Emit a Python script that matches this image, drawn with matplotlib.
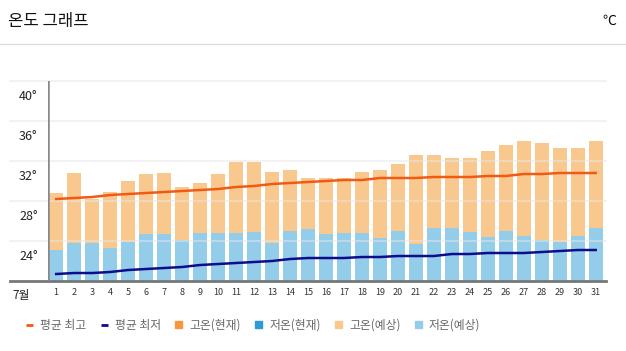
import matplotlib.pyplot as plt
from matplotlib.lines import Line2D
from matplotlib.patches import Rectangle

plt.rcParams['font.family'] = ['Noto Sans CJK KR', 'DejaVu Sans']

days = list(range(1, 32))
high_fc = [28.8, 30.8, 28.2, 28.9, 30.0, 30.7, 30.8, 29.4, 29.8, 30.7,
           31.9, 31.9, 30.9, 31.1, 30.3, 30.3, 30.3, 30.9, 31.1, 31.7,
           32.6, 32.6, 32.3, 32.3, 33.0, 33.6, 34.0, 33.8, 33.3, 33.3, 34.0]
low_fc = [23.1, 23.8, 23.8, 23.3, 23.9, 24.7, 24.7, 24.1, 24.8, 24.8,
          24.8, 24.9, 23.8, 25.0, 25.2, 24.7, 24.8, 24.8, 24.3, 25.0,
          23.7, 25.3, 25.3, 24.9, 24.4, 25.0, 24.5, 24.1, 23.9, 24.5, 25.3]
avg_high = [28.2, 28.3, 28.4, 28.6, 28.7, 28.8, 28.9, 29.0, 29.1, 29.2,
            29.4, 29.5, 29.7, 29.8, 29.9, 30.0, 30.1, 30.1, 30.3, 30.3,
            30.3, 30.4, 30.4, 30.4, 30.5, 30.5, 30.7, 30.7, 30.8, 30.8, 30.8]
avg_low = [20.7, 20.8, 20.8, 20.9, 21.1, 21.2, 21.3, 21.4, 21.6, 21.7,
           21.8, 21.9, 22.0, 22.2, 22.3, 22.3, 22.3, 22.4, 22.4, 22.5,
           22.5, 22.5, 22.7, 22.7, 22.8, 22.8, 22.8, 22.9, 23.0, 23.1, 23.1]
y_ticks = [24, 28, 32, 36, 40]
y_base = 20

c_high_line = '#f05a14'
c_low_line = '#0c0c8c'
c_high_now = '#f7963f'
c_low_now = '#2e9ad6'
c_high_fc = '#f9c88f'
c_low_fc = '#94cdea'

fig = plt.figure(figsize=(6.26, 3.51), dpi=100)
ax = fig.add_axes([0.0762, 0.1994, 0.8918, 0.5698])

ax.bar(days, [h - y_base for h in high_fc], bottom=y_base, width=0.78,
       color=c_high_fc, zorder=2)
ax.bar(days, [l - y_base for l in low_fc], bottom=y_base, width=0.78,
       color=c_low_fc, zorder=2)
ax.plot(days, avg_high, color=c_high_line, lw=1.8, zorder=4)
ax.plot(days, avg_low, color=c_low_line, lw=1.8, zorder=4)

ax.set_xlim(0.53, 31.57)
ax.set_ylim(y_base, 40)

# grid lines reach left past the y axis
for v in y_ticks:
  ax.axhline(v, xmin=-0.068, xmax=1, color='#e6e6e6', lw=1.2,
             alpha=0.6, clip_on=False, zorder=3)
  ax.text(-0.018, v - 1.5, f'{v}°', transform=ax.get_yaxis_transform(),
          ha='right', va='center', fontsize=9, color='#222222')
ax.axhline(y_base, xmin=-0.068, xmax=1, color='#777777', lw=2,
           clip_on=False, zorder=5)
ax.axvline(0.53, color='#888888', lw=1.8, zorder=5)

for s in ax.spines.values():
  s.set_visible(False)
ax.set_yticks([])
ax.set_xticks(days)
ax.set_xticklabels([str(d) for d in days], fontsize=6.5, color='#333333')
ax.tick_params(axis='x', length=0, pad=5)
ax.text(-0.048, -0.072, '7월', transform=ax.transAxes, ha='center',
        va='center', fontsize=8.5, color='#222222')

# header
fig.text(0.013, 0.94, '온도 그래프', fontsize=12, va='center', color='#111111')
fig.text(0.973, 0.94, '℃', fontsize=10, va='center', ha='center', color='#111111')
fig.add_artist(Line2D([0, 1], [0.875, 0.875], transform=fig.transFigure,
                      color='#dddddd', lw=1))

handles = [
  Line2D([], [], color=c_high_line, lw=2, solid_capstyle='butt'),
  Line2D([], [], color=c_low_line, lw=2, solid_capstyle='butt'),
  Rectangle((0, 0), 1, 1, color=c_high_now),
  Rectangle((0, 0), 1, 1, color=c_low_now),
  Rectangle((0, 0), 1, 1, color=c_high_fc),
  Rectangle((0, 0), 1, 1, color=c_low_fc),
]
labels = ['평균 최고', '평균 최저', '고온(현재)', '저온(현재)', '고온(예상)', '저온(예상)']
leg = fig.legend(handles, labels, loc='center left', bbox_to_anchor=(0.025, 0.074),
                 ncol=6, frameon=False, fontsize=8.5, handlelength=0.6,
                 handleheight=0.6, handletextpad=0.6, columnspacing=1.2,
                 labelcolor='#666666')

fig.savefig('out.png', dpi=100)
